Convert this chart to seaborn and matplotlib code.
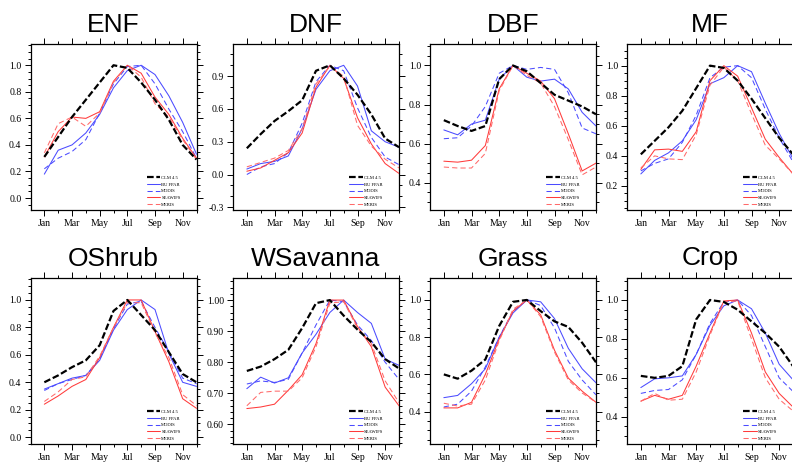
import numpy as np
import pandas as pd
import matplotlib
matplotlib.use("Agg")
import matplotlib.pyplot as plt
import seaborn as sns
from matplotlib.ticker import MultipleLocator, AutoMinorLocator, FixedLocator, FormatStrFormatter
from matplotlib.lines import Line2D

months = list(range(1, 13))
month_ticks = [1, 3, 5, 7, 9, 11]
month_labels = ["Jan", "Mar", "May", "Jul", "Sep", "Nov"]
datasets = ["CLM 4.5", "BU FPAR", "MODIS", "SEAWIFS", "MERIS"]
titles = ["ENF", "DNF", "DBF", "MF", "OShrub", "WSavanna", "Grass", "Crop"]

# ENF
ENF_CLM = [0.31, 0.46, 0.61, 0.74, 0.87, 1.00, 0.98, 0.87, 0.74, 0.59, 0.40, 0.29]
ENF_BU = [0.18, 0.36, 0.40, 0.49, 0.63, 0.83, 0.96, 1.00, 0.93, 0.77, 0.57, 0.33]
ENF_MODIS = [0.22, 0.30, 0.35, 0.44, 0.64, 0.86, 0.99, 1.00, 0.86, 0.67, 0.50, 0.30]
ENF_SEA = [0.31, 0.50, 0.61, 0.60, 0.65, 0.88, 1.00, 0.94, 0.76, 0.63, 0.45, 0.30]
ENF_MERIS = [0.34, 0.56, 0.61, 0.54, 0.64, 0.87, 1.00, 0.91, 0.71, 0.61, 0.44, 0.29]
# DNF
DNF_CLM = [0.24, 0.37, 0.49, 0.58, 0.68, 0.95, 1.00, 0.88, 0.73, 0.55, 0.33, 0.25]
DNF_BU = [0.05, 0.10, 0.12, 0.17, 0.42, 0.78, 0.95, 1.00, 0.81, 0.40, 0.30, 0.25]
DNF_MODIS = [0.00, 0.07, 0.10, 0.20, 0.47, 0.85, 1.00, 0.95, 0.61, 0.34, 0.16, 0.09]
DNF_SEA = [0.03, 0.06, 0.13, 0.20, 0.38, 0.80, 1.00, 0.88, 0.52, 0.28, 0.10, 0.01]
DNF_MERIS = [0.07, 0.11, 0.15, 0.22, 0.42, 0.83, 0.99, 0.90, 0.45, 0.26, 0.14, 0.06]
# DBF
DBF_CLM = [0.72, 0.69, 0.665, 0.69, 0.93, 1.00, 0.97, 0.91, 0.85, 0.82, 0.79, 0.75]
DBF_BU = [0.67, 0.645, 0.70, 0.72, 0.93, 1.00, 0.94, 0.92, 0.93, 0.88, 0.76, 0.69]
DBF_MODIS = [0.625, 0.63, 0.69, 0.79, 0.96, 1.00, 0.98, 0.99, 0.98, 0.86, 0.68, 0.65]
DBF_SEA = [0.51, 0.505, 0.515, 0.59, 0.88, 1.00, 0.96, 0.92, 0.83, 0.65, 0.46, 0.50]
DBF_MERIS = [0.48, 0.475, 0.475, 0.55, 0.87, 1.00, 0.95, 0.91, 0.79, 0.62, 0.44, 0.48]
# MF
MF_CLM = [0.41, 0.50, 0.59, 0.70, 0.85, 1.00, 0.985, 0.90, 0.78, 0.65, 0.52, 0.41]
MF_BU = [0.28, 0.37, 0.42, 0.50, 0.64, 0.88, 0.92, 1.00, 0.96, 0.75, 0.55, 0.38]
MF_MODIS = [0.30, 0.35, 0.38, 0.49, 0.67, 0.92, 0.99, 1.00, 0.92, 0.71, 0.52, 0.36]
MF_SEA = [0.31, 0.44, 0.445, 0.43, 0.56, 0.90, 1.00, 0.93, 0.72, 0.51, 0.39, 0.28]
MF_MERIS = [0.32, 0.40, 0.38, 0.375, 0.54, 0.87, 0.99, 0.90, 0.68, 0.47, 0.38, 0.28]
# OShrub
OS_CLM = [0.40, 0.45, 0.51, 0.56, 0.67, 0.92, 1.00, 0.89, 0.78, 0.62, 0.46, 0.40]
OS_BU = [0.35, 0.39, 0.43, 0.45, 0.56, 0.78, 0.93, 1.00, 0.93, 0.61, 0.40, 0.37]
OS_MODIS = [0.34, 0.39, 0.42, 0.45, 0.57, 0.79, 0.97, 0.99, 0.80, 0.62, 0.43, 0.39]
OS_SEA = [0.24, 0.30, 0.37, 0.42, 0.58, 0.80, 1.00, 1.00, 0.77, 0.55, 0.28, 0.21]
OS_MERIS = [0.26, 0.33, 0.42, 0.44, 0.59, 0.80, 0.98, 0.98, 0.76, 0.58, 0.31, 0.23]
# WSavanna
WS_CLM = [0.772, 0.786, 0.81, 0.84, 0.91, 0.99, 1.00, 0.95, 0.905, 0.865, 0.81, 0.78]
WS_BU = [0.715, 0.752, 0.733, 0.75, 0.83, 0.89, 0.96, 1.00, 0.96, 0.925, 0.81, 0.79]
WS_MODIS = [0.73, 0.74, 0.735, 0.745, 0.83, 0.92, 1.00, 0.995, 0.92, 0.87, 0.80, 0.745]
WS_SEA = [0.651, 0.656, 0.665, 0.71, 0.76, 0.86, 1.00, 1.00, 0.915, 0.85, 0.72, 0.66]
WS_MERIS = [0.66, 0.703, 0.707, 0.707, 0.75, 0.85, 0.99, 0.995, 0.91, 0.86, 0.74, 0.67]
# Grass
GR_CLM = [0.60, 0.577, 0.62, 0.68, 0.86, 0.99, 1.00, 0.94, 0.885, 0.855, 0.77, 0.665]
GR_BU = [0.475, 0.487, 0.55, 0.63, 0.80, 0.93, 1.00, 0.99, 0.90, 0.74, 0.63, 0.555]
GR_MODIS = [0.425, 0.44, 0.51, 0.64, 0.80, 0.94, 1.00, 0.97, 0.85, 0.67, 0.57, 0.49]
GR_SEA = [0.42, 0.42, 0.45, 0.60, 0.79, 0.94, 1.00, 0.92, 0.73, 0.58, 0.51, 0.45]
GR_MERIS = [0.445, 0.43, 0.44, 0.57, 0.78, 0.95, 1.00, 0.91, 0.72, 0.57, 0.50, 0.45]
# Crop
CR_CLM = [0.61, 0.60, 0.61, 0.66, 0.90, 1.00, 0.99, 0.95, 0.89, 0.83, 0.76, 0.66]
CR_BU = [0.55, 0.595, 0.60, 0.61, 0.72, 0.87, 0.97, 1.00, 0.955, 0.83, 0.67, 0.59]
CR_MODIS = [0.52, 0.535, 0.54, 0.59, 0.72, 0.88, 0.99, 1.00, 0.92, 0.76, 0.60, 0.53]
CR_SEA = [0.48, 0.51, 0.49, 0.51, 0.66, 0.83, 0.995, 1.00, 0.83, 0.63, 0.52, 0.45]
CR_MERIS = [0.48, 0.52, 0.485, 0.49, 0.63, 0.82, 0.99, 0.995, 0.80, 0.60, 0.49, 0.43]

panel_series = [
    [ENF_CLM, ENF_BU, ENF_MODIS, ENF_SEA, ENF_MERIS],
    [DNF_CLM, DNF_BU, DNF_MODIS, DNF_SEA, DNF_MERIS],
    [DBF_CLM, DBF_BU, DBF_MODIS, DBF_SEA, DBF_MERIS],
    [MF_CLM, MF_BU, MF_MODIS, MF_SEA, MF_MERIS],
    [OS_CLM, OS_BU, OS_MODIS, OS_SEA, OS_MERIS],
    [WS_CLM, WS_BU, WS_MODIS, WS_SEA, WS_MERIS],
    [GR_CLM, GR_BU, GR_MODIS, GR_SEA, GR_MERIS],
    [CR_CLM, CR_BU, CR_MODIS, CR_SEA, CR_MERIS],
]

# axis settings: (ymin, ymax, major step, minor divisions, format)
yaxes = [
    (-0.09, 1.16, 0.2, 4, "%.1f"),
    (-0.325, 1.195, 0.3, 3, "%.1f"),
    (0.26, 1.11, 0.2, 4, "%.1f"),
    (0.04, 1.144, 0.2, 4, "%.1f"),
    (-0.05, 1.16, 0.2, 4, "%.1f"),
    (0.537, 1.071, 0.1, 5, "%.2f"),
    (0.226, 1.118, 0.2, 4, "%.1f"),
    (0.26, 1.113, 0.2, 4, "%.1f"),
]

colors = ["black", "#4b4bff", "#4b4bff", "#ff3b3b", "#ff6a6a"]
styles = [(0, (3.0, 1.2)), "-", (0, (5, 3)), "-", (0, (5, 3))]
widths = [1.6, 0.75, 0.75, 0.75, 0.75]
zorders = [5, 3, 3, 4, 4]

sns.set_style("ticks")
plt.rcParams["axes.unicode_minus"] = False
plt.rcParams["font.family"] = ["DejaVu Sans"]
plt.rcParams["text.color"] = "black"
plt.rcParams["xtick.color"] = "black"
plt.rcParams["ytick.color"] = "black"
plt.rcParams["xtick.labelcolor"] = "black"
plt.rcParams["ytick.labelcolor"] = "black"

fig = plt.figure(figsize=(7.92, 4.62), dpi=100)
W, H = 792.0, 462.0
lefts = [30.5, 233, 430, 627]
tops = [44, 278]
aw, ah = 166.0, 166.0

serif = "Liberation Serif"

for i, title in enumerate(titles):
    r, c = divmod(i, 4)
    ax = fig.add_axes([lefts[c] / W, 1 - (tops[r] + ah) / H, aw / W, ah / H])
    rows = []
    for name, vals in zip(datasets, panel_series[i]):
        for m, v in zip(months, vals):
            rows.append({"month": m, "value": v, "dataset": name})
    df = pd.DataFrame(rows)
    for k, name in enumerate(datasets):
        sub = df[df["dataset"] == name]
        sns.lineplot(data=sub, x="month", y="value", ax=ax, color=colors[k],
                     linestyle=styles[k], linewidth=widths[k], zorder=zorders[k],
                     label=name, legend=False)
    ymin, ymax, step, ndiv, fmt = yaxes[i]
    ax.set_xlim(0, 12)
    ax.set_ylim(ymin, ymax)
    ax.xaxis.set_major_locator(FixedLocator(month_ticks))
    ax.xaxis.set_minor_locator(FixedLocator([2, 4, 6, 8, 10, 12]))
    ax.set_xticklabels(month_labels, fontfamily=serif, fontsize=7, color="black")
    ax.yaxis.set_major_locator(MultipleLocator(step))
    ax.yaxis.set_minor_locator(AutoMinorLocator(ndiv))
    ax.yaxis.set_major_formatter(FormatStrFormatter(fmt))
    for lab in ax.get_yticklabels():
        lab.set_fontfamily(serif)
        lab.set_fontsize(7)
        lab.set_color("black")
    ax.set_xlabel("")
    ax.set_ylabel("")
    ax.tick_params(which="both", direction="out", top=True, right=True,
                   color="black", width=0.7, labelcolor="black")
    ax.tick_params(which="major", length=4, pad=2.5)
    ax.tick_params(which="minor", length=2.2)
    for sp in ax.spines.values():
        sp.set_visible(True)
        sp.set_color("black")
        sp.set_linewidth(0.9)
    ax.set_title(title, fontfamily="Liberation Sans", fontsize=19, pad=9, color="black")
    handles = [Line2D([], [], color=colors[k], linestyle=styles[k], linewidth=widths[k])
               for k in range(5)]
    leg = ax.legend(handles, datasets, loc="lower left", bbox_to_anchor=(0.68, 0.0),
                    frameon=False, handlelength=3.0, handletextpad=0.2,
                    labelspacing=0.55, borderpad=0.2, prop={"family": serif, "size": 3.3})
    for t in leg.get_texts():
        t.set_color("black")

fig.savefig("out.png", dpi=100)
